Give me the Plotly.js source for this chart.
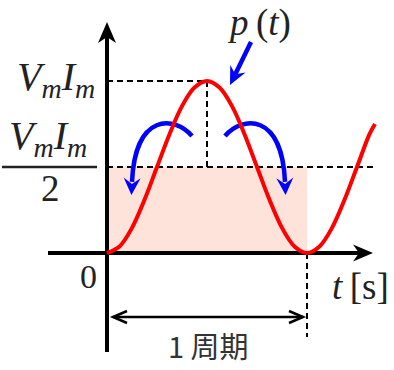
<!DOCTYPE html>
<html><head><meta charset="utf-8">
<script src="https://cdn.plot.ly/plotly-3.0.1.min.js"></script>
<style>html,body{margin:0;padding:0;background:#fff;overflow:hidden}</style>
</head><body><div id="chart" style="width:394px;height:370px"></div>
<script>
// ---- data (time in periods, power in units of Vm*Im) ----
const tValues = [0,0.0625,0.125,0.1875,0.25,0.3125,0.375,0.4375,0.5,0.5625,0.625,0.6875,0.75,0.8125,0.875,0.9375,1,1.0625,1.125,1.1875,1.25,1.3125,1.34];
const pValues = [0,0.038,0.146,0.309,0.5,0.691,0.854,0.962,1,0.962,0.854,0.691,0.5,0.309,0.146,0.038,0,0.038,0.146,0.309,0.5,0.691,0.75];
const PERIOD = 1;
const PEAK = 1;
const AVERAGE = 0.5;
const peakLabel = '<i>V</i><sub><i>m</i></sub><i>I</i><sub><i>m</i></sub>';
const avgNumerator = '<i>V</i><sub><i>m</i></sub><i>I</i><sub><i>m</i></sub>';
const avgDenominator = '2';
const originLabel = '0';
const timeLabel = '<i>t</i>\u2009[s]';
const curveLabel = '<i>p</i>\u2009(<i>t</i>)';
const periodLabel = '1 周期';

// ---- layout geometry ----
const W = 394, H = 370;
const X_RANGE = [-0.535, 1.435];
const Y_RANGE = [-0.6802, 1.4709];
const X_AXIS = [-0.295, 1.33];
const Y_AXIS = [-0.576, 1.343];
const kx = (X_RANGE[1] - X_RANGE[0]) / W;
const ky = (Y_RANGE[1] - Y_RANGE[0]) / H;
const toPx = ([t, p]) => [(t - X_RANGE[0]) / kx, (Y_RANGE[1] - p) / ky];
const toData = ([x, y]) => [X_RANGE[0] + x * kx, Y_RANGE[1] - y * ky];
const off = (pt, ox, oy) => { const q = toPx(pt); return toData([q[0] + ox, q[1] + oy]); };
const f = pt => pt[0].toFixed(5) + ',' + pt[1].toFixed(5);
function poly(pts, close) { return 'M' + pts.map(f).join(' L') + (close ? ' Z' : ''); }

function stealth(tipData, dirPx, L, w, n) {
  const T = toPx(tipData);
  const len = Math.hypot(dirPx[0], dirPx[1]);
  const d = [dirPx[0] / len, dirPx[1] / len];
  const pr = [-d[1], d[0]];
  const B1 = [T[0] - L * d[0] + w * pr[0], T[1] - L * d[1] + w * pr[1]];
  const N = [T[0] - n * d[0], T[1] - n * d[1]];
  const B2 = [T[0] - L * d[0] - w * pr[0], T[1] - L * d[1] - w * pr[1]];
  return { path: poly([tipData, toData(B1), toData(N), toData(B2)], true), back: toData(N) };
}

const shapes = [];
const BLACK = '#000';
const BLUE = '#0000ff';

// pink area (average power over one period)
shapes.push({type: 'rect', xref: 'x', yref: 'y', x0: 0, x1: PERIOD, y0: 0, y1: AVERAGE,
  fillcolor: '#fde3da', line: {width: 0}, layer: 'below'});

// dashed guides
const dash = {color: BLACK, width: 2, dash: '6px,4px'};
shapes.push({type: 'line', xref: 'x', yref: 'y', x0: 0, x1: PERIOD / 2, y0: PEAK, y1: PEAK, line: dash, layer: 'below'});
shapes.push({type: 'line', xref: 'x', yref: 'y', x0: PERIOD / 2, x1: PERIOD / 2, y0: PEAK, y1: AVERAGE, line: dash, layer: 'below'});
shapes.push({type: 'line', xref: 'x', yref: 'y', x0: 0, x1: 1.345, y0: AVERAGE, y1: AVERAGE, line: dash, layer: 'below'});
shapes.push({type: 'line', xref: 'x', yref: 'y', x0: PERIOD, x1: PERIOD, y0: 0, y1: -0.488, line: dash, layer: 'below'});

// axes with arrow heads
const xHead = stealth([X_AXIS[1], 0], [1, 0], 20, 8.5, 14);
const yHead = stealth([0, Y_AXIS[1]], [0, -1], 21, 9, 15);
shapes.push({type: 'line', xref: 'x', yref: 'y', x0: X_AXIS[0], x1: xHead.back[0], y0: 0, y1: 0, line: {color: BLACK, width: 4}, layer: 'below'});
shapes.push({type: 'path', xref: 'x', yref: 'y', path: xHead.path, fillcolor: BLACK, line: {width: 0}, layer: 'below'});
shapes.push({type: 'line', xref: 'x', yref: 'y', x0: 0, x1: 0, y0: Y_AXIS[0], y1: yHead.back[1], line: {color: BLACK, width: 4}, layer: 'below'});
shapes.push({type: 'path', xref: 'x', yref: 'y', path: yHead.path, fillcolor: BLACK, line: {width: 0}, layer: 'below'});

// fraction bar
shapes.push({type: 'line', xref: 'x', yref: 'y', x0: -0.525, x1: -0.05, y0: AVERAGE, y1: AVERAGE, line: {color: '#222', width: 2.5}});

// blue curved arrows (mirror pair about the peak)
const arcLeft = [[0.425, 0.680], [0.34, 0.797], [0.14, 0.820], [0.125, 0.413]];
const mirrorT = PERIOD / 2 + 0.0075;
const arcRight = arcLeft.map(([t, p]) => [2 * mirrorT - t, p]);
[arcLeft, arcRight].forEach(a => {
  const p2 = toPx(a[2]), p3 = toPx(a[3]);
  const d = [p3[0] - p2[0], p3[1] - p2[1]];
  const dl = Math.hypot(d[0], d[1]);
  const tip = toData([p3[0] + 13 * d[0] / dl, p3[1] + 13 * d[1] / dl]);
  const head = stealth(tip, d, 17, 8.5, 11);
  shapes.push({type: 'path', xref: 'x', yref: 'y',
    path: 'M' + f(a[0]) + ' C' + f(a[1]) + ' ' + f(a[2]) + ' ' + f(a[3]),
    line: {color: BLUE, width: 4.5}, layer: 'below'});
  shapes.push({type: 'path', xref: 'x', yref: 'y', path: head.path, fillcolor: BLUE, line: {width: 0}, layer: 'below'});
});

// pointer from the p(t) label to the peak
const peakPt = [PERIOD / 2, PEAK];
const ptrTip = off(peakPt, 23, 4);
const ptrStart = off(peakPt, 44, -39);
{
  const a = toPx(ptrStart), b = toPx(ptrTip);
  const head = stealth(ptrTip, [b[0] - a[0], b[1] - a[1]], 18, 8.5, 12);
  shapes.push({type: 'line', xref: 'x', yref: 'y', x0: ptrStart[0], y0: ptrStart[1], x1: head.back[0], y1: head.back[1], line: {color: BLUE, width: 4.5}});
  shapes.push({type: 'path', xref: 'x', yref: 'y', path: head.path, fillcolor: BLUE, line: {width: 0}});
}

// one-period double arrow
const yPer = -0.372;
const L0 = off([0, yPer], 6, 0), R0 = off([PERIOD, yPer], -4, 0);
shapes.push({type: 'line', xref: 'x', yref: 'y', x0: L0[0], x1: R0[0], y0: yPer, y1: yPer, line: {color: BLACK, width: 2.5}});
shapes.push({type: 'path', xref: 'x', yref: 'y', path: poly([off(L0, 14, -6), L0, off(L0, 14, 6)], false), line: {color: BLACK, width: 2.5}});
shapes.push({type: 'path', xref: 'x', yref: 'y', path: poly([off(R0, -14, -6), R0, off(R0, -14, 6)], false), line: {color: BLACK, width: 2.5}});

const SERIF = 'Liberation Serif';
const INK = '#222';
const ann = (o) => Object.assign({xref: 'x', yref: 'y', showarrow: false}, o);
const annotations = [
  ann({x: -0.05, y: PEAK, xanchor: 'right', yanchor: 'middle', text: peakLabel, font: {family: SERIF, size: 40, color: INK}, yshift: 2}),
  ann({x: -0.2975, y: AVERAGE, xanchor: 'center', yanchor: 'bottom', text: avgNumerator, font: {family: SERIF, size: 40, color: INK}, yshift: 2}),
  ann({x: -0.285, y: AVERAGE, xanchor: 'center', yanchor: 'top', text: avgDenominator, font: {family: SERIF, size: 37, color: INK}, yshift: 1}),
  ann({x: -0.04, y: 0, xanchor: 'right', yanchor: 'top', text: originLabel, font: {family: SERIF, size: 34, color: INK}, yshift: -3}),
  ann({x: 1.115, y: -0.195, xanchor: 'left', yanchor: 'middle', text: timeLabel, font: {family: SERIF, size: 37, color: INK}}),
  ann({x: 0.59, y: 1.34, xanchor: 'left', yanchor: 'middle', text: curveLabel, font: {family: SERIF, size: 37, color: INK}}),
  ann({x: PERIOD / 2 + 0.005, y: -0.535, xanchor: 'center', yanchor: 'middle', text: periodLabel,
       font: {family: 'Noto Sans CJK JP', size: 29, color: '#333'}})
];

const trace = {
  x: tValues, y: pValues, type: 'scatter', mode: 'lines',
  line: {color: '#ff0000', width: 4, shape: 'spline', smoothing: 1},
  hoverinfo: 'skip', cliponaxis: false
};

Plotly.newPlot('chart', [trace], {
  width: W, height: H, margin: {l: 0, r: 0, t: 0, b: 0, pad: 0},
  paper_bgcolor: '#fff', plot_bgcolor: '#fff', showlegend: false,
  xaxis: {range: X_RANGE, visible: false, fixedrange: true},
  yaxis: {range: Y_RANGE, visible: false, fixedrange: true},
  shapes: shapes, annotations: annotations
}, {displayModeBar: false, staticPlot: true});
</script></body></html>
